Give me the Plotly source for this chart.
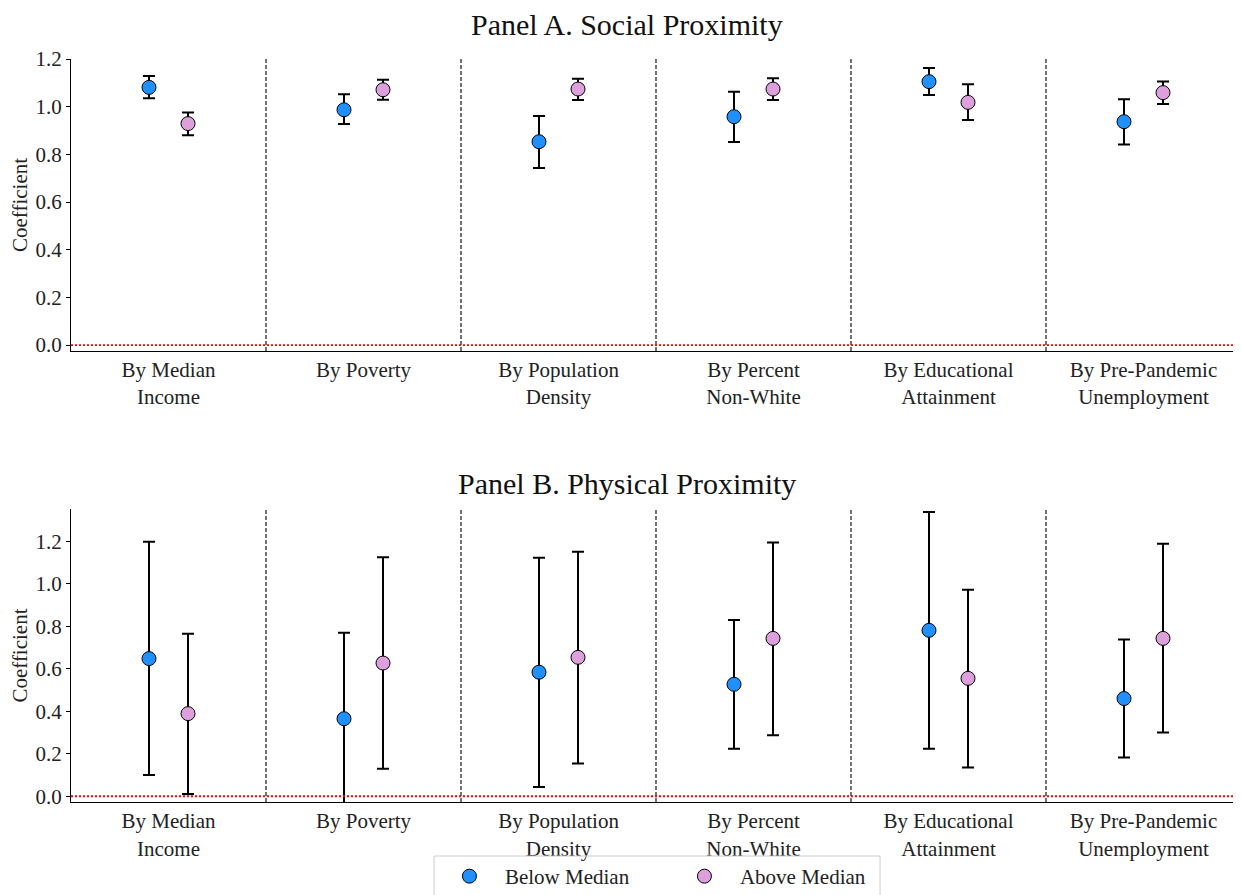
import plotly.graph_objects as go
from plotly.subplots import make_subplots

categories = ["By Median<br>Income", "By Poverty", "By Population<br>Density",
              "By Percent<br>Non-White", "By Educational<br>Attainment", "By Pre-Pandemic<br>Unemployment"]

# Panel A: Social Proximity
a_below = [1.081, 0.987, 0.853, 0.958, 1.105, 0.937]
a_below_hi = [1.129, 1.052, 0.961, 1.063, 1.162, 1.031]
a_below_lo = [1.035, 0.927, 0.743, 0.852, 1.049, 0.841]
a_above = [0.929, 1.071, 1.074, 1.074, 1.018, 1.059]
a_above_hi = [0.976, 1.113, 1.117, 1.119, 1.094, 1.106]
a_above_lo = [0.880, 1.029, 1.028, 1.028, 0.944, 1.011]

# Panel B: Physical Proximity
b_below = [0.648, 0.365, 0.584, 0.527, 0.781, 0.460]
b_below_hi = [1.198, 0.770, 1.123, 0.830, 1.338, 0.738]
b_below_lo = [0.100, -0.040, 0.044, 0.224, 0.224, 0.182]
b_above = [0.389, 0.627, 0.654, 0.743, 0.555, 0.743]
b_above_hi = [0.765, 1.125, 1.151, 1.195, 0.972, 1.189]
b_above_lo = [0.011, 0.130, 0.154, 0.287, 0.136, 0.300]

series_names = ["Below Median", "Above Median"]
series_colors = ["#1E90FF", "#DDA0DD"]
offset = 0.1

FONT = "Liberation Serif"

fig = make_subplots(rows=2, cols=1, vertical_spacing=0.2)

panels = [
    (1, [(a_below, a_below_hi, a_below_lo), (a_above, a_above_hi, a_above_lo)]),
    (2, [(b_below, b_below_hi, b_below_lo), (b_above, b_above_hi, b_above_lo)]),
]

for row, series in panels:
    for k, (vals, hi, lo) in enumerate(series):
        xs = [i + (-offset if k == 0 else offset) for i in range(len(categories))]
        fig.add_trace(go.Scatter(
            x=xs, y=vals, mode="markers",
            name=series_names[k], legendgroup=series_names[k], showlegend=(row == 2),
            marker=dict(size=14, color=series_colors[k], line=dict(color="black", width=1)),
            error_y=dict(type="data", symmetric=False,
                         array=[h - v for h, v in zip(hi, vals)],
                         arrayminus=[v - l for v, l in zip(vals, lo)],
                         color="black", thickness=2, width=6),
            cliponaxis=True,
        ), row=row, col=1)

fig.update_layout(
    xaxis=dict(domain=[0.0, 1.0]),
    xaxis2=dict(domain=[0.0, 1.0]),
    yaxis=dict(domain=[0.607, 1.0]),
    yaxis2=dict(domain=[0.0, 0.3943]),
)

for ax in ["xaxis", "xaxis2"]:
    fig.layout[ax].update(
        range=[-0.5, 5.5], tickvals=list(range(6)), ticktext=categories,
        showline=True, linecolor="black", linewidth=1, ticks="", automargin=False,
        showgrid=False, zeroline=False, tickfont=dict(family=FONT, size=21, color="#222"),
    )
fig.layout["yaxis"].update(range=[-0.025, 1.2])
fig.layout["yaxis2"].update(range=[-0.027, 1.352])
for ax in ["yaxis", "yaxis2"]:
    fig.layout[ax].update(
        tickvals=[0, 0.2, 0.4, 0.6, 0.8, 1.0, 1.2], tickformat=".1f",
        showline=True, linecolor="black", linewidth=1, ticks="outside", ticklen=4,
        tickcolor="black", showgrid=False, zeroline=False, automargin=False,
        tickfont=dict(family=FONT, size=21, color="#222"),
        title=dict(text="Coefficient", font=dict(family=FONT, size=21, color="#222"), standoff=2),
    )

shapes = []
for xr, yr in [("x", "y"), ("x2", "y2")]:
    for d in [0.5, 1.5, 2.5, 3.5, 4.5]:
        shapes.append(dict(type="line", xref=xr, yref=yr + " domain", x0=d, x1=d, y0=0, y1=1,
                           line=dict(color="black", width=1.1, dash="4px,2px")))
    shapes.append(dict(type="line", xref=xr + " domain", yref=yr, x0=0, x1=1, y0=0, y1=0,
                       line=dict(color="red", width=1.8, dash="2px,2px")))
# legend frame
shapes.append(dict(type="rect", xref="paper", yref="paper", x0=0.3103, x1=0.6915,
                   y0=-0.14, y1=-0.0727, line=dict(color="#cccccc", width=1),
                   fillcolor="rgba(0,0,0,0)", layer="above"))

annotations = [
    dict(text="Panel A. Social Proximity", xref="paper", yref="paper", x=0.4756, y=1.0458,
         showarrow=False, xanchor="center", yanchor="middle",
         font=dict(family=FONT, size=30, color="#111")),
    dict(text="Panel B. Physical Proximity", xref="paper", yref="paper", x=0.4756, y=0.4293,
         showarrow=False, xanchor="center", yanchor="middle",
         font=dict(family=FONT, size=30, color="#111")),
]

fig.update_layout(
    width=1241, height=895,
    margin=dict(l=63, r=8, t=51, b=101, autoexpand=False),
    paper_bgcolor="white", plot_bgcolor="white",
    shapes=shapes, annotations=annotations,
    showlegend=True,
    legend=dict(orientation="h", x=0.3102, xanchor="left", y=-0.0727, yanchor="top",
                borderwidth=0, bgcolor="rgba(0,0,0,0)",
                font=dict(family=FONT, size=21, color="#222"),
                itemsizing="trace", itemwidth=61, entrywidth=159),
)

fig.write_html("out.html")
